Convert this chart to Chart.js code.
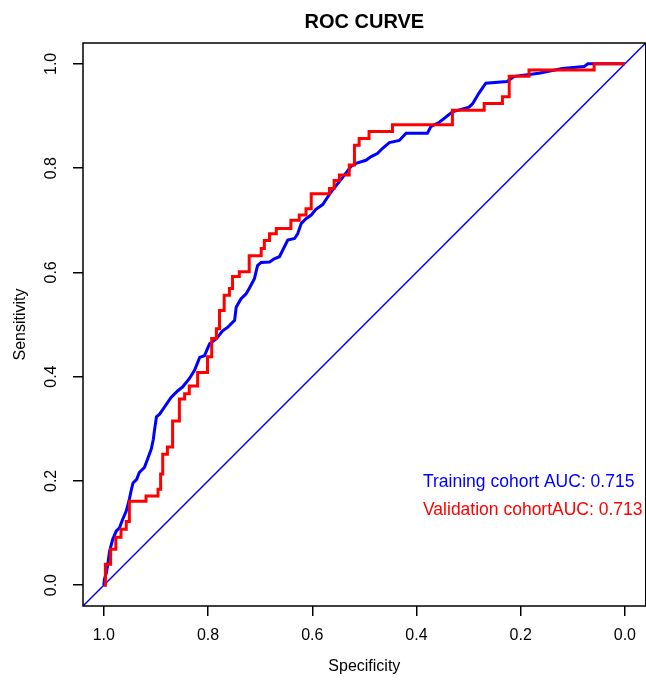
<!DOCTYPE html>
<html>
<head>
<meta charset="utf-8">
<title>ROC CURVE</title>
<script src="https://cdn.jsdelivr.net/npm/chart.js@4.4.0/dist/chart.umd.min.js"></script>
<style>
body { margin: 0; background: #fff; }
canvas { display: block; }
</style>
</head>
<body>
<canvas id="rocChart" width="646" height="680"></canvas>
<script>
// axis ticks
var xTicks = [1.0, 0.8, 0.6, 0.4, 0.2, 0.0];
var yTicks = [0.0, 0.2, 0.4, 0.6, 0.8, 1.0];

// training cohort
var trainSpec = [1.000, 0.999, 0.995, 0.992, 0.989, 0.983, 0.976, 0.970, 0.964, 0.957, 0.951, 0.947, 0.944, 0.937, 0.932,
	0.922, 0.916, 0.909, 0.905, 0.903, 0.899, 0.893, 0.884, 0.871, 0.858, 0.849, 0.836, 0.826, 0.816, 0.807, 0.797, 0.784,
	0.772, 0.762, 0.749, 0.746, 0.737, 0.727, 0.721, 0.711, 0.705, 0.698, 0.682, 0.673, 0.663, 0.657, 0.647, 0.634, 0.628,
	0.621, 0.612, 0.602, 0.593, 0.580, 0.570, 0.561, 0.548, 0.538, 0.526, 0.516, 0.497, 0.487, 0.475, 0.465, 0.452, 0.433,
	0.420, 0.379, 0.372, 0.356, 0.331, 0.299, 0.292, 0.280, 0.267, 0.226, 0.212, 0.165, 0.120, 0.078, 0.071, 0.000];
var trainSens = [0.000, 0.011, 0.024, 0.043, 0.065, 0.088, 0.104, 0.110, 0.126, 0.142, 0.165, 0.184, 0.196, 0.203, 0.216,
	0.226, 0.242, 0.261, 0.280, 0.296, 0.323, 0.328, 0.341, 0.360, 0.373, 0.380, 0.396, 0.412, 0.437, 0.440, 0.463, 0.473,
	0.488, 0.495, 0.508, 0.533, 0.549, 0.559, 0.569, 0.588, 0.613, 0.619, 0.620, 0.626, 0.630, 0.642, 0.662, 0.665, 0.674,
	0.694, 0.703, 0.710, 0.721, 0.730, 0.745, 0.758, 0.774, 0.787, 0.803, 0.809, 0.815, 0.822, 0.828, 0.838, 0.849, 0.853,
	0.867, 0.867, 0.880, 0.888, 0.908, 0.917, 0.924, 0.944, 0.963, 0.966, 0.976, 0.982, 0.991, 0.995, 1.000, 1.000];

// validation cohort
var validSpec = [1.000, 0.997, 0.997, 0.987, 0.987, 0.977, 0.977, 0.967, 0.967, 0.957, 0.957, 0.951, 0.951, 0.919, 0.919,
	0.896, 0.896, 0.891, 0.891, 0.887, 0.887, 0.878, 0.878, 0.868, 0.868, 0.855, 0.855, 0.845, 0.845, 0.836, 0.836, 0.820,
	0.820, 0.801, 0.801, 0.793, 0.793, 0.784, 0.784, 0.778, 0.778, 0.769, 0.769, 0.759, 0.759, 0.753, 0.753, 0.740, 0.740,
	0.721, 0.721, 0.698, 0.698, 0.692, 0.692, 0.682, 0.682, 0.669, 0.669, 0.641, 0.641, 0.625, 0.625, 0.612, 0.612, 0.602,
	0.602, 0.567, 0.567, 0.558, 0.558, 0.548, 0.548, 0.529, 0.529, 0.519, 0.519, 0.510, 0.510, 0.491, 0.491, 0.446, 0.446,
	0.331, 0.331, 0.270, 0.270, 0.235, 0.235, 0.222, 0.222, 0.184, 0.184, 0.059, 0.059, 0.000];
var validSens = [0.000, 0.000, 0.040, 0.040, 0.069, 0.069, 0.092, 0.092, 0.107, 0.107, 0.122, 0.122, 0.161, 0.161, 0.171,
	0.171, 0.184, 0.184, 0.213, 0.213, 0.251, 0.251, 0.265, 0.265, 0.315, 0.315, 0.357, 0.357, 0.367, 0.367, 0.382, 0.382,
	0.408, 0.408, 0.438, 0.438, 0.473, 0.473, 0.492, 0.492, 0.527, 0.527, 0.556, 0.556, 0.569, 0.569, 0.592, 0.592, 0.601,
	0.601, 0.632, 0.632, 0.646, 0.646, 0.661, 0.661, 0.674, 0.674, 0.684, 0.684, 0.700, 0.700, 0.710, 0.710, 0.722, 0.722,
	0.751, 0.751, 0.761, 0.761, 0.776, 0.776, 0.787, 0.787, 0.806, 0.806, 0.844, 0.844, 0.857, 0.857, 0.870, 0.870, 0.883,
	0.883, 0.911, 0.911, 0.924, 0.924, 0.937, 0.937, 0.976, 0.976, 0.988, 0.988, 1.000, 1.000];

// reference line across the whole plot
var chanceSpec = [1.04, -0.04];
var chanceSens = [-0.04, 1.04];

var legendLabels = ['Training cohort AUC: 0.715', 'Validation cohortAUC: 0.713'];
var legendColors = ['#0000FF', '#FF0000'];

function toPoints(xs, ys) {
	return xs.map(function(x, i) {
		return { x: x, y: ys[i] };
	});
}

var fontName = '"Liberation Sans", Arial, sans-serif';

var extrasPlugin = {
	id: 'rocExtras',
	afterDraw: function(chart) {
		var ctx = chart.ctx;
		var area = chart.chartArea;
		var yScale = chart.scales.y;
		ctx.save();
		// box round the plot
		ctx.strokeStyle = '#000';
		ctx.lineWidth = 1.5;
		ctx.strokeRect(area.left, area.top, area.right - area.left, area.bottom - area.top);

		ctx.fillStyle = '#000';
		ctx.textAlign = 'center';
		ctx.textBaseline = 'middle';

		// title
		ctx.font = 'bold 20px ' + fontName;
		ctx.fillText('ROC CURVE', (area.left + area.right) / 2, 22);

		// y tick labels, turned like R does
		ctx.font = '16px ' + fontName;
		for (var i = 0; i < yTicks.length; i++) {
			var py = yScale.getPixelForValue(yTicks[i]);
			ctx.save();
			ctx.translate(52, py);
			ctx.rotate(-Math.PI / 2);
			ctx.fillText(yTicks[i].toFixed(1), 0, 0);
			ctx.restore();
		}

		// axis titles
		ctx.fillText('Specificity', (area.left + area.right) / 2, 667);
		ctx.save();
		ctx.translate(21, (area.top + area.bottom) / 2);
		ctx.rotate(-Math.PI / 2);
		ctx.fillText('Sensitivity', 0, 0);
		ctx.restore();

		// AUC text
		ctx.textAlign = 'left';
		ctx.font = '17.5px ' + fontName;
		for (var j = 0; j < legendLabels.length; j++) {
			ctx.fillStyle = legendColors[j];
			ctx.fillText(legendLabels[j], 423, 482 + j * 28.5);
		}
		ctx.restore();
	}
};

var ctx = document.getElementById('rocChart').getContext('2d');
var rocChart = new Chart(ctx, {
	type: 'scatter',
	data: {
		datasets: [{
			label: 'Validation cohort',
			data: toPoints(validSpec, validSens),
			showLine: true,
			borderColor: '#FF0000',
			borderWidth: 3,
			pointRadius: 0,
			order: 0
		}, {
			label: 'Training cohort',
			data: toPoints(trainSpec, trainSens),
			showLine: true,
			borderColor: '#0000FF',
			borderWidth: 3,
			pointRadius: 0,
			order: 1
		}, {
			label: 'Reference',
			data: toPoints(chanceSpec, chanceSens),
			showLine: true,
			borderColor: '#0000FF',
			borderWidth: 1.5,
			pointRadius: 0,
			order: 2
		}]
	},
	options: {
		responsive: false,
		animation: false,
		devicePixelRatio: 1,
		layout: {
			padding: { top: 43, right: 0, left: 0, bottom: 0 }
		},
		plugins: {
			legend: { display: false },
			tooltip: { enabled: false },
			title: { display: false }
		},
		scales: {
			x: {
				type: 'linear',
				reverse: true,
				min: -0.04,
				max: 1.04,
				afterBuildTicks: function(scale) {
					scale.ticks = xTicks.map(function(v) { return { value: v }; });
				},
				afterFit: function(scale) {
					scale.height = 74;
				},
				grid: {
					drawOnChartArea: false,
					drawTicks: true,
					tickLength: 10,
					color: '#000',
					lineWidth: 1.5
				},
				border: { display: false },
				ticks: {
					color: '#000',
					font: { family: fontName, size: 16 },
					padding: 10,
					maxRotation: 0,
					callback: function(v) { return Number(v).toFixed(1); }
				}
			},
			y: {
				type: 'linear',
				min: -0.04,
				max: 1.04,
				afterBuildTicks: function(scale) {
					scale.ticks = yTicks.map(function(v) { return { value: v }; });
				},
				afterFit: function(scale) {
					scale.width = 83;
				},
				grid: {
					drawOnChartArea: false,
					drawTicks: true,
					tickLength: 10,
					color: '#000',
					lineWidth: 1.5
				},
				border: { display: false },
				ticks: { display: false }
			}
		}
	},
	plugins: [extrasPlugin]
});
</script>
</body>
</html>
